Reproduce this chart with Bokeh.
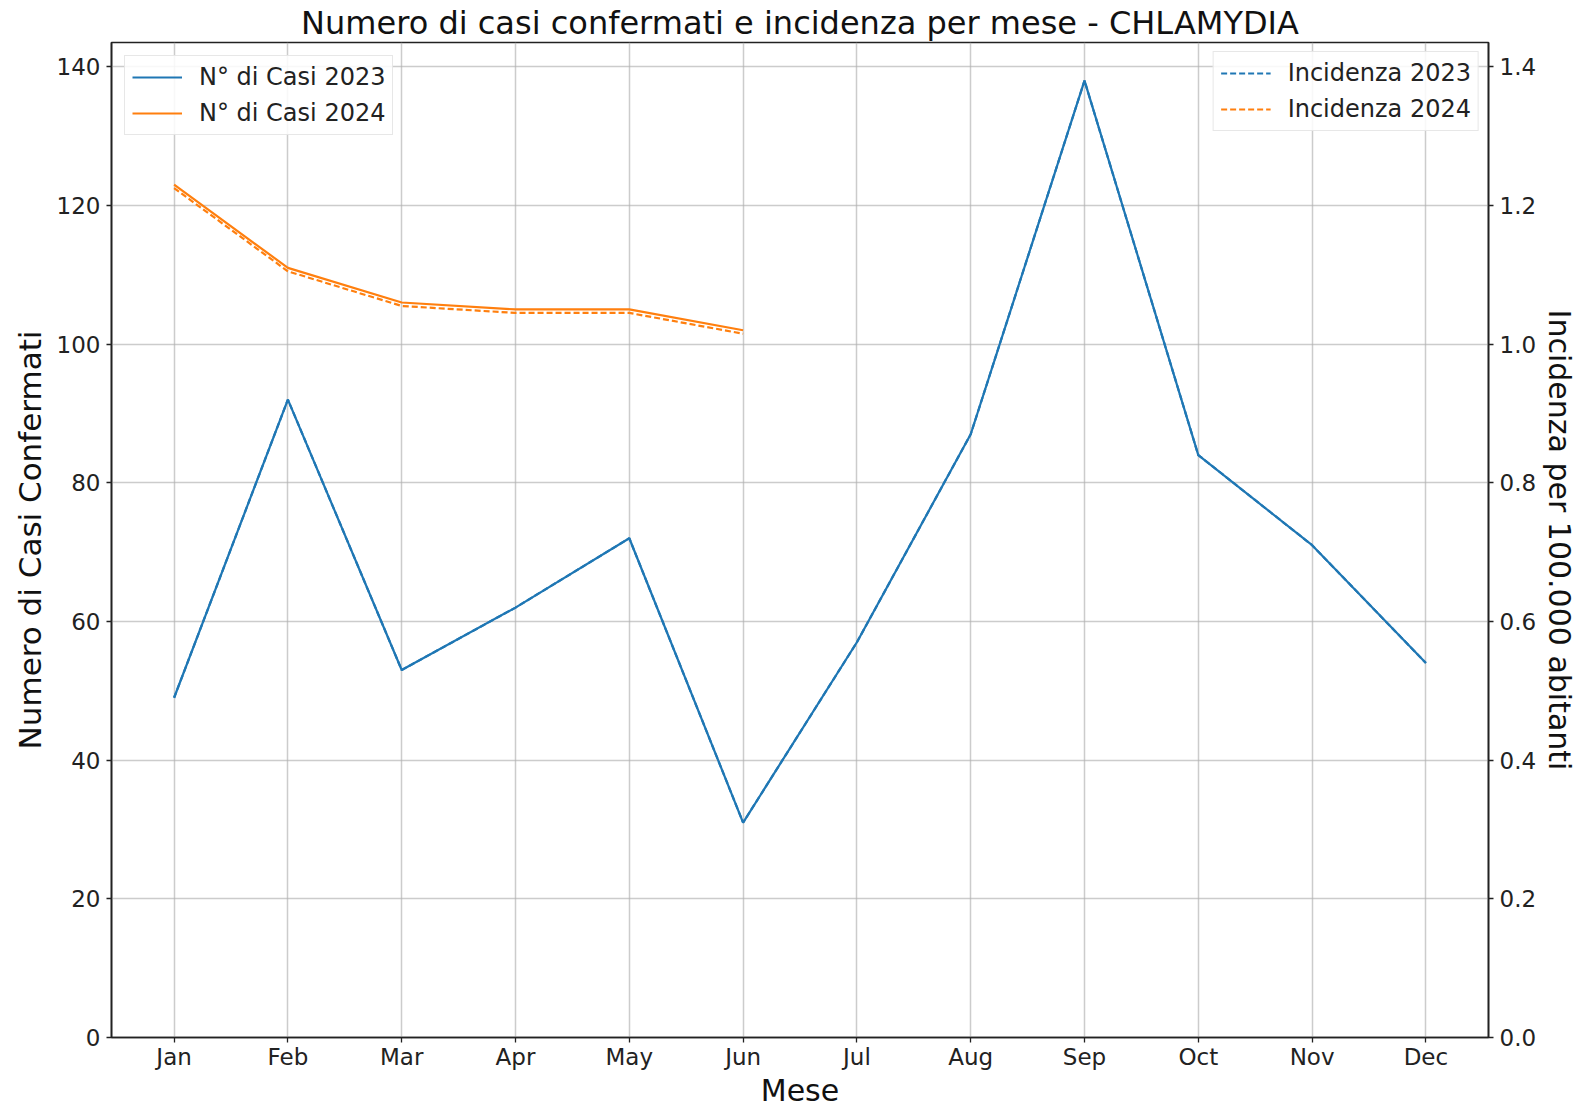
from bokeh.plotting import figure
from bokeh.models import (Range1d, LinearAxis, FixedTicker, Legend, LegendItem,
                          FactorRange, PrintfTickFormatter, ColumnDataSource)
from bokeh.embed import file_html
from bokeh.resources import INLINE

months = ["Jan", "Feb", "Mar", "Apr", "May", "Jun", "Jul", "Aug", "Sep", "Oct", "Nov", "Dec"]
casi_2023 = [49, 92, 53, 62, 72, 31, 57, 87, 138, 84, 71, 54]
casi_2024 = [123, 111, 106, 105, 105, 102]
inc_2023 = [0.49, 0.92, 0.53, 0.62, 0.72, 0.31, 0.57, 0.87, 1.38, 0.84, 0.71, 0.54]
inc_2024 = [1.225, 1.105, 1.055, 1.045, 1.045, 1.015]
left_ticks = [0, 20, 40, 60, 80, 100, 120, 140]
right_ticks = [0.0, 0.2, 0.4, 0.6, 0.8, 1.0, 1.2, 1.4]
INC_MAX = 1.435

BLUE = "#1f77b4"
ORANGE = "#ff7f0e"
FONT = "DejaVu Sans"

p = figure(
    x_range=FactorRange(factors=months, range_padding=0.05, range_padding_units="absolute"),
    y_range=Range1d(0, 143.5),
    frame_width=1377, frame_height=995,
    output_backend="svg", toolbar_location=None,
    min_border_left=111, min_border_right=80, min_border_top=41, min_border_bottom=60,
    title="Numero di casi confermati e incidenza per mese - CHLAMYDIA",
)
p.extra_y_ranges = {"inc": Range1d(0, INC_MAX)}

p.title.align = "center"
p.title.text_font = FONT
p.title.text_font_size = "32px"
p.title.text_font_style = "normal"
p.title.text_color = "#111111"
p.title.standoff = 2

p.outline_line_color = "#222222"
p.outline_line_width = 1.6
p.background_fill_color = "white"
p.border_fill_color = "white"

# grid
p.xgrid.grid_line_color = "#b0b0b0"
p.xgrid.grid_line_alpha = 0.65
p.xgrid.grid_line_width = 1.5
p.ygrid.grid_line_color = "#b0b0b0"
p.ygrid.grid_line_alpha = 0.65
p.ygrid.grid_line_width = 1.5
p.ygrid.ticker = FixedTicker(ticks=left_ticks)

def style_axis(ax):
    ax.axis_line_color = "#222222"
    ax.axis_line_width = 1.6
    ax.major_tick_line_color = "#222222"
    ax.major_tick_line_width = 1.3
    ax.major_tick_out = 5
    ax.major_tick_in = 0
    ax.minor_tick_line_color = None
    ax.major_label_text_font = FONT
    ax.major_label_text_font_size = "23px"
    ax.major_label_text_color = "#222222"
    ax.major_label_standoff = 6
    ax.axis_label_text_font = FONT
    ax.axis_label_text_font_size = "31px"
    ax.axis_label_text_font_style = "normal"
    ax.axis_label_text_color = "#111111"

xa = p.xaxis[0]
style_axis(xa)
xa.axis_label = "Mese"
xa.axis_label_text_font_size = "30px"
xa.axis_label_standoff = 0
xa.major_label_standoff = 1

ya = p.yaxis[0]
style_axis(ya)
ya.ticker = FixedTicker(ticks=left_ticks)
ya.axis_label = "Numero di Casi Confermati"
ya.axis_label_standoff = 6

ra = LinearAxis(y_range_name="inc", ticker=FixedTicker(ticks=right_ticks),
                formatter=PrintfTickFormatter(format="%.1f"))
style_axis(ra)
ra.axis_label = "Incidenza per 100.000 abitanti"
ra.axis_label_text_font_size = "30px"
ra.axis_label_standoff = 3
p.add_layout(ra, "right")

src23 = ColumnDataSource(dict(m=months, c=casi_2023, i=inc_2023))
src24 = ColumnDataSource(dict(m=months[:len(casi_2024)], c=casi_2024, i=inc_2024))

r_c23 = p.line("m", "c", source=src23, line_color=BLUE, line_width=2.2)
r_c24 = p.line("m", "c", source=src24, line_color=ORANGE, line_width=2.2)
r_i23 = p.line("m", "i", source=src23, y_range_name="inc", line_color=BLUE,
               line_width=2.2, line_dash="6 3")
r_i24 = p.line("m", "i", source=src24, y_range_name="inc", line_color=ORANGE,
               line_width=2.2, line_dash="6 3")

def make_legend(items, loc, margin):
    lg = Legend(items=items, location=loc)
    lg.label_text_font = FONT
    lg.label_text_font_size = "24px"
    lg.label_text_color = "#222222"
    lg.glyph_width = 50
    lg.glyph_height = 28
    lg.label_standoff = 17
    lg.label_height = 28
    lg.spacing = 8
    lg.padding = 7
    lg.margin = margin
    lg.border_line_color = "#d0d0d0"
    lg.border_line_width = 1.3
    lg.background_fill_alpha = 0.85
    return lg

leg_left = make_legend([LegendItem(label="N° di Casi 2023", renderers=[r_c23]),
                        LegendItem(label="N° di Casi 2024", renderers=[r_c24])], "top_left", 13)
leg_right = make_legend([LegendItem(label="Incidenza 2023", renderers=[r_i23]),
                         LegendItem(label="Incidenza 2024", renderers=[r_i24])], "top_right", 9)
p.add_layout(leg_left, "center")
p.add_layout(leg_right, "center")

open("out.html", "w").write(file_html(p, INLINE))
